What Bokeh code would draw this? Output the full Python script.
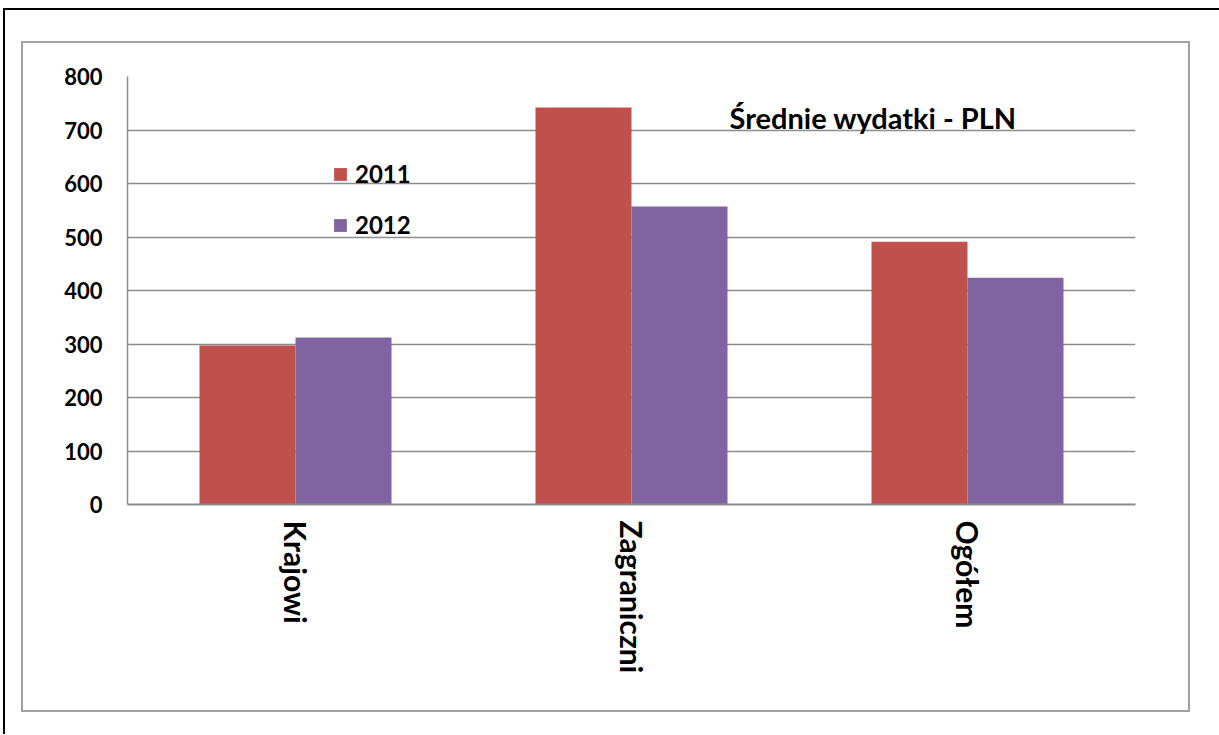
from bokeh.plotting import figure
from bokeh.models import (ColumnDataSource, FactorRange, SingleIntervalTicker, Legend,
                          LegendItem, Label)
from bokeh.transform import dodge
from bokeh.embed import file_html
from bokeh.resources import INLINE

categories = ["Krajowi", "Zagraniczni", "Ogółem"]
values_2011 = [297, 742, 491]
values_2012 = [312, 557, 424]
series_names = ["2011", "2012"]
title_text = "Średnie wydatki - PLN"

RED = "#C0504D"
PURPLE = "#8064A2"
GRID = "#8c8c8c"
FONT = "Lato"

src = ColumnDataSource(dict(cat=categories, v2011=values_2011, v2012=values_2012))

W, H = 1219, 734
p = figure(width=W, height=H, output_backend="svg", toolbar_location=None,
           x_range=FactorRange(*categories, range_padding=0), y_range=(0, 800),
           min_border_left=127, min_border_right=W - 1135, min_border_top=76,
           min_border_bottom=H - 504)
p.outline_line_color = None
p.background_fill_color = "white"
p.border_fill_color = None

# decorative chart-area frame and page border lines (drawn as CSS backgrounds behind the canvas)
p.styles = {
    "background-color": "white",
    "background-image": ", ".join(["linear-gradient(#000,#000)"] * 2 +
                                  ["linear-gradient(#a0a0a0,#a0a0a0)"] * 4),
    "background-position": "4px 8px, 3px 8px, 21px 41px, 21px 710px, 21px 41px, 1188px 41px",
    "background-size": "1215px 2px, 2px 727px, 1169px 2px, 1169px 2px, 2px 671px, 2px 671px",
    "background-repeat": "no-repeat",
}

r1 = p.vbar(x=dodge("cat", -0.1429, range=p.x_range), top="v2011", width=0.2857,
            source=src, fill_color=RED, line_color=None)
r2 = p.vbar(x=dodge("cat", 0.1429, range=p.x_range), top="v2012", width=0.2857,
            source=src, fill_color=PURPLE, line_color=None)

# axes
p.yaxis.ticker = SingleIntervalTicker(interval=100)
p.yaxis.minor_tick_line_color = None
p.yaxis.major_tick_out = 0
p.yaxis.major_tick_in = 0
p.yaxis.major_label_standoff = 21
p.yaxis.axis_line_color = GRID
p.yaxis.axis_line_width = 1.5
p.yaxis.major_label_text_font = FONT
p.yaxis.major_label_text_font_style = "bold"
p.yaxis.major_label_text_font_size = "22px"
p.yaxis.major_label_text_color = "black"

p.xaxis.major_tick_out = 0
p.xaxis.major_tick_in = 0
p.xaxis.major_label_standoff = 16
p.xaxis.axis_line_color = GRID
p.xaxis.axis_line_width = 2
p.xaxis.major_label_orientation = "vertical"
p.xaxis.major_label_text_font = FONT
p.xaxis.major_label_text_font_style = "bold"
p.xaxis.major_label_text_font_size = "30px"
p.xaxis.major_label_text_color = "black"

p.xgrid.grid_line_color = None
p.ygrid.grid_line_color = GRID
p.ygrid.grid_line_width = 1.5

legend = Legend(items=[LegendItem(label=series_names[0], renderers=[r1]),
                       LegendItem(label=series_names[1], renderers=[r2])],
                location=(205, 265), glyph_width=16, glyph_height=16, label_height=20,
                spacing=22, padding=0, margin=0, border_line_color=None,
                background_fill_alpha=0, label_standoff=7,
                label_text_font=FONT, label_text_font_style="bold",
                label_text_font_size="24px", label_text_color="black")
p.add_layout(legend)

p.add_layout(Label(x=602, y=387, x_units="screen", y_units="screen", text=title_text,
                   text_font=FONT, text_font_style="bold", text_font_size="29px",
                   text_color="black", text_baseline="middle"))

open("out.html", "w").write(file_html(p, INLINE))
